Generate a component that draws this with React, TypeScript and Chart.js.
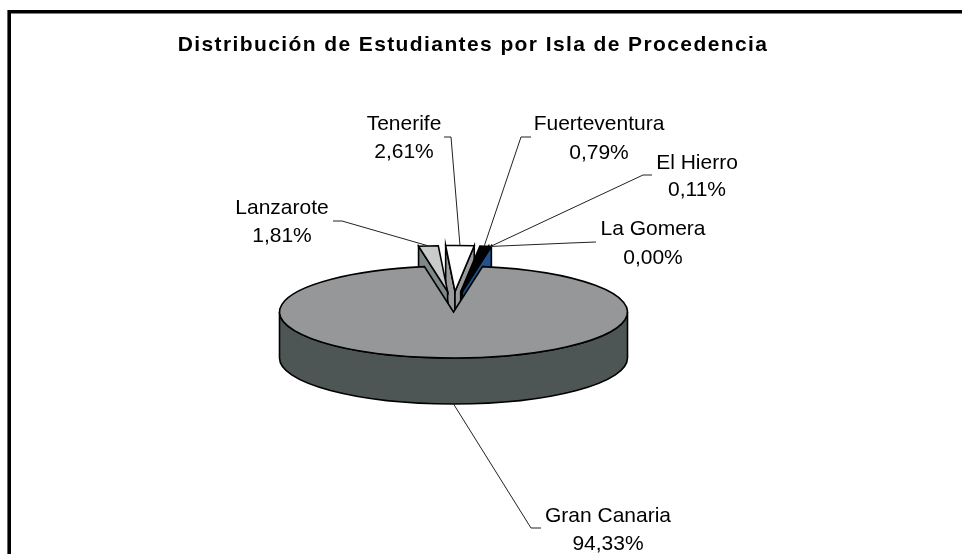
import React, { useEffect, useRef } from "react";
import { Chart, registerables } from "chart.js";

Chart.register(...registerables);

const categories = ["Gran Canaria", "Lanzarote", "Tenerife", "Fuerteventura", "El Hierro", "La Gomera"];
const shares = [94.33, 1.81, 2.61, 0.79, 0.11, 0.0];
const valueLabels = ["94,33%", "1,81%", "2,61%", "0,79%", "0,11%", "0,00%"];

const topColors = ["#969799", "#c9caca", "#ffffff", "#000000", "#969799", "#23508f"];
const wallColors = ["#4e5655", "#7f8888", "#9a9b9c", "#1a1a1a", "#8a8b8d", "#23508f"];

// layout of the pie on the page
const PIE_CX = 453.5;
const PIE_CY = 312;
const PIE_R = 174;
const SQUASH = 46 / 174;
const DEPTH = 46;
const EXPLODE_X = 53;
const EXPLODE_Y = 20.5;
const ROTATION = 9.6;

// label layout: text centre, first-line y, second-line y, stub start, elbow
const labelLayout = [
  { x: 608, y1: 516, y2: 544, stub: [541, 528], elbow: [531, 528] },
  { x: 282, y1: 208, y2: 236, stub: [333, 221], elbow: [342, 221] },
  { x: 404, y1: 124, y2: 152, stub: [444, 137], elbow: [451, 137] },
  { x: 599, y1: 124, y2: 153, stub: [531, 137], elbow: [521, 137] },
  { x: 697, y1: 163, y2: 190, stub: [652, 175], elbow: [643, 175] },
  { x: 653, y1: 229, y2: 258, stub: [596, 242], elbow: [570, 243] },
];

const pie3d = {
  id: "pie3d",
  beforeDraw(chart: any) {
    const ctx = chart.ctx;
    ctx.save();
    ctx.fillStyle = "#ffffff";
    ctx.fillRect(0, 0, chart.width, chart.height);
    ctx.strokeStyle = "#000000";
    ctx.lineWidth = 3.6;
    ctx.lineCap = "butt";
    ctx.lineJoin = "miter";
    ctx.beginPath();
    ctx.moveTo(9.2, chart.height);
    ctx.lineTo(9.2, 11.8);
    ctx.lineTo(chart.width, 11.8);
    ctx.stroke();
    ctx.restore();
    ctx.letterSpacing = "1.4px";
  },
  beforeDatasetsDraw(chart: any) {
    const ctx = chart.ctx;
    ctx.letterSpacing = "0px";
    const arcs = chart.getDatasetMeta(0).data;
    const ref = arcs[0];
    const r = PIE_R;
    const ry = r * SQUASH;

    const midOf = (a: any) => (a.startAngle + a.endAngle) / 2;
    const apexOf = (a: any, i: number) => {
      if (i === 0) return [PIE_CX, PIE_CY];
      const m = midOf(a);
      return [PIE_CX + Math.cos(m) * EXPLODE_X, PIE_CY + Math.sin(m) * EXPLODE_Y];
    };
    const rimOf = (apex: number[], angle: number) => [
      apex[0] + Math.cos(angle) * r,
      apex[1] + Math.sin(angle) * ry,
    ];

    const drawFace = (a: any, i: number) => {
      const apex = apexOf(a, i);
      ctx.save();
      ctx.translate(apex[0], apex[1]);
      ctx.scale(1, SQUASH);
      ctx.translate(-a.x, -a.y);
      a.draw(ctx);
      ctx.restore();
      ctx.save();
      ctx.strokeStyle = "#000000";
      ctx.lineWidth = 1.6;
      ctx.lineJoin = "miter";
      ctx.beginPath();
      ctx.moveTo(apex[0], apex[1]);
      ctx.ellipse(apex[0], apex[1], r, ry, 0, a.startAngle, a.endAngle, false);
      ctx.closePath();
      ctx.stroke();
      ctx.restore();
    };

    const drawWall = (a: any, i: number, angle: number) => {
      const apex = apexOf(a, i);
      const rim = rimOf(apex, angle);
      ctx.save();
      ctx.fillStyle = wallColors[i];
      ctx.strokeStyle = "#000000";
      ctx.lineWidth = 1.6;
      ctx.beginPath();
      ctx.moveTo(apex[0], apex[1]);
      ctx.lineTo(rim[0], rim[1]);
      ctx.lineTo(rim[0], rim[1] + DEPTH);
      ctx.lineTo(apex[0], apex[1] + DEPTH);
      ctx.closePath();
      ctx.fill();
      ctx.stroke();
      ctx.restore();
    };

    // exploded slices at the back: inner walls first, outer walls over them
    [2, 3, 4, 5, 1].forEach((i) => {
      const a = arcs[i];
      if (Math.cos(a.startAngle) < 0) drawWall(a, i, a.startAngle);
      if (Math.cos(a.endAngle) > 0) drawWall(a, i, a.endAngle);
    });
    [1, 2, 3, 4].forEach((i) => drawFace(arcs[i], i));

    // main slice: front wall then top face
    ctx.save();
    ctx.fillStyle = wallColors[0];
    ctx.strokeStyle = "#000000";
    ctx.lineWidth = 1.6;
    ctx.beginPath();
    ctx.moveTo(PIE_CX - r, PIE_CY);
    ctx.lineTo(PIE_CX - r, PIE_CY + DEPTH);
    ctx.ellipse(PIE_CX, PIE_CY + DEPTH, r, ry, 0, Math.PI, 0, true);
    ctx.lineTo(PIE_CX + r, PIE_CY);
    ctx.ellipse(PIE_CX, PIE_CY, r, ry, 0, 0, Math.PI, false);
    ctx.closePath();
    ctx.fill();
    ctx.stroke();
    ctx.restore();
    drawFace(ref, 0);

    // leaders and labels
    ctx.save();
    arcs.forEach((a: any, i: number) => {
      const l = labelLayout[i];
      const apex = apexOf(a, i);
      const rim = rimOf(apex, midOf(a));
      const anchorY = i === 0 ? rim[1] + DEPTH : rim[1];
      ctx.strokeStyle = "#222222";
      ctx.lineWidth = 1;
      ctx.beginPath();
      ctx.moveTo(l.stub[0], l.stub[1]);
      ctx.lineTo(l.elbow[0], l.elbow[1]);
      ctx.lineTo(rim[0], anchorY);
      ctx.stroke();
      ctx.fillStyle = "#000000";
      ctx.font = '21px "Liberation Sans", Arial, sans-serif';
      ctx.textAlign = "center";
      ctx.textBaseline = "middle";
      ctx.fillText(categories[i], l.x, l.y1);
      ctx.fillText(valueLabels[i], l.x, l.y2);
    });
    ctx.restore();
    return false;
  },
};

export default function App() {
  const canvasRef = useRef<HTMLCanvasElement | null>(null);
  useEffect(() => {
    document.body.style.margin = "0";
    const chart = new Chart(canvasRef.current as HTMLCanvasElement, {
      type: "pie",
      data: {
        labels: categories,
        datasets: [
          {
            data: shares,
            backgroundColor: topColors,
            borderWidth: 0,
          },
        ],
      },
      options: {
        responsive: false,
        animation: false,
        rotation: ROTATION,
        radius: PIE_R,
        layout: { padding: { right: 16 } },
        plugins: {
          legend: { display: false },
          tooltip: { enabled: false },
          title: {
            display: true,
            text: "Distribución de Estudiantes por Isla de Procedencia",
            color: "#000000",
            font: { family: '"Liberation Sans", Arial, sans-serif', size: 21, weight: "bold" },
            padding: { top: 33, bottom: 10 },
          },
        },
      } as any,
      plugins: [pie3d as any],
    });
    return () => chart.destroy();
  }, []);
  return (
    <canvas
      ref={canvasRef}
      width={962}
      height={554}
      style={{ display: "block", width: 962, height: 554 }}
    />
  );
}
